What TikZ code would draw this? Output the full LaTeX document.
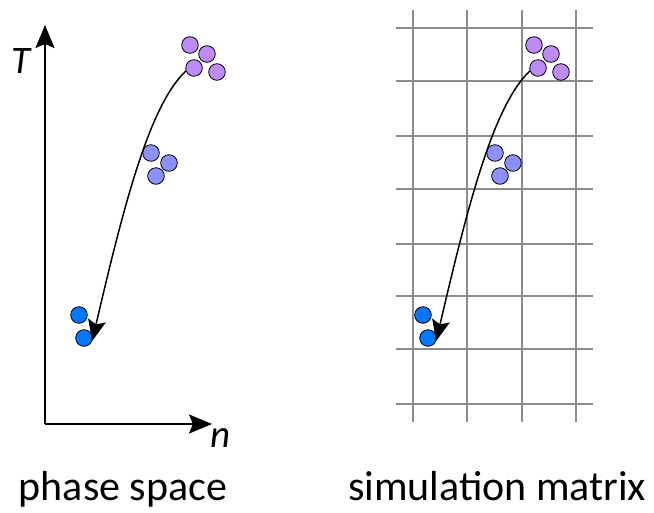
\documentclass[tikz,border=0pt]{standalone}
\usepackage{fontspec}
\setmainfont{Carlito}
\usetikzlibrary{arrows.meta}
\definecolor{hotpurple}{RGB}{190,140,250}
\definecolor{warmblue}{RGB}{140,145,255}
\definecolor{coldblue}{RGB}{0,120,255}

\begin{document}
\begin{tikzpicture}[
    x=1pt, y=-1pt,
    particle/.style={circle, draw, line width=0.8pt, inner sep=0pt, minimum size=16.6pt},
    hot/.style={particle, fill=hotpurple},
    warm/.style={particle, fill=warmblue},
    cold/.style={particle, fill=coldblue},
    axis/.style={-{Stealth[length=23pt, width=19pt, inset=4pt]}, line width=2pt},
    flow/.style={-{Stealth[length=21pt, width=18pt, inset=4pt]}, line width=1.5pt},
    gridline/.style={draw={rgb,255:red,140;green,140;blue,140}, line width=1.5pt},
    axlabel/.style={anchor=base, font=\fontsize{39}{44}\selectfont\itshape},
    caption/.style={anchor=base, font=\fontsize{42}{48}\selectfont}
]
    \useasboundingbox (0,0) rectangle (654,512);

    % Grid
    \foreach \x in {413,467,522,576}
        \draw[gridline] (\x,10) -- (\x,422);
    \foreach \y in {28,81,136,189,244,296,349,404}
        \draw[gridline] (396,\y) -- (593,\y);

    % Axes
    \coordinate (origin) at (45,424);
    \coordinate (ytip) at (45,25);
    \coordinate (xtip) at (212,424);
    \draw[axis] (origin) -- (ytip);
    \draw[axis] (origin) -- (xtip);
    \node[axlabel] (Tlab) at (21,73) {T};
    \node[axlabel] (nlab) at (221,447) {n};

    % Nodes (phase space)
    \node[hot] (lhot1) at (190,45) {};
    \node[hot] (lhot2) at (207,54) {};
    \node[hot] (lhot3) at (194,68) {};
    \node[hot] (lhot4) at (217,72) {};
    \node[warm] (lwarm1) at (151,153) {};
    \node[warm] (lwarm2) at (169,163) {};
    \node[warm] (lwarm3) at (156,176) {};
    \node[cold] (lcold1) at (79,315) {};
    \node[cold] (lcold2) at (84,338) {};

    % Nodes (simulation matrix)
    \node[hot] (rhot1) at (534,45) {};
    \node[hot] (rhot2) at (551,54) {};
    \node[hot] (rhot3) at (538,68) {};
    \node[hot] (rhot4) at (561,72) {};
    \node[warm] (rwarm1) at (495,153) {};
    \node[warm] (rwarm2) at (513,163) {};
    \node[warm] (rwarm3) at (500,176) {};
    \node[cold] (rcold1) at (423,315) {};
    \node[cold] (rcold2) at (428,338) {};

    % Arrows
    \draw[flow] (lhot3.200) .. controls (150,105) and (125,200) .. (lcold2.-20);
    \draw[flow] (rhot3.200) .. controls (494,105) and (469,200) .. (rcold2.-20);

    % Captions
    \node[caption] (phase) at (123,500) {phase space};
    \node[caption] (matrix) at (497,500) {simulation matrix};
\end{tikzpicture}
\end{document}
